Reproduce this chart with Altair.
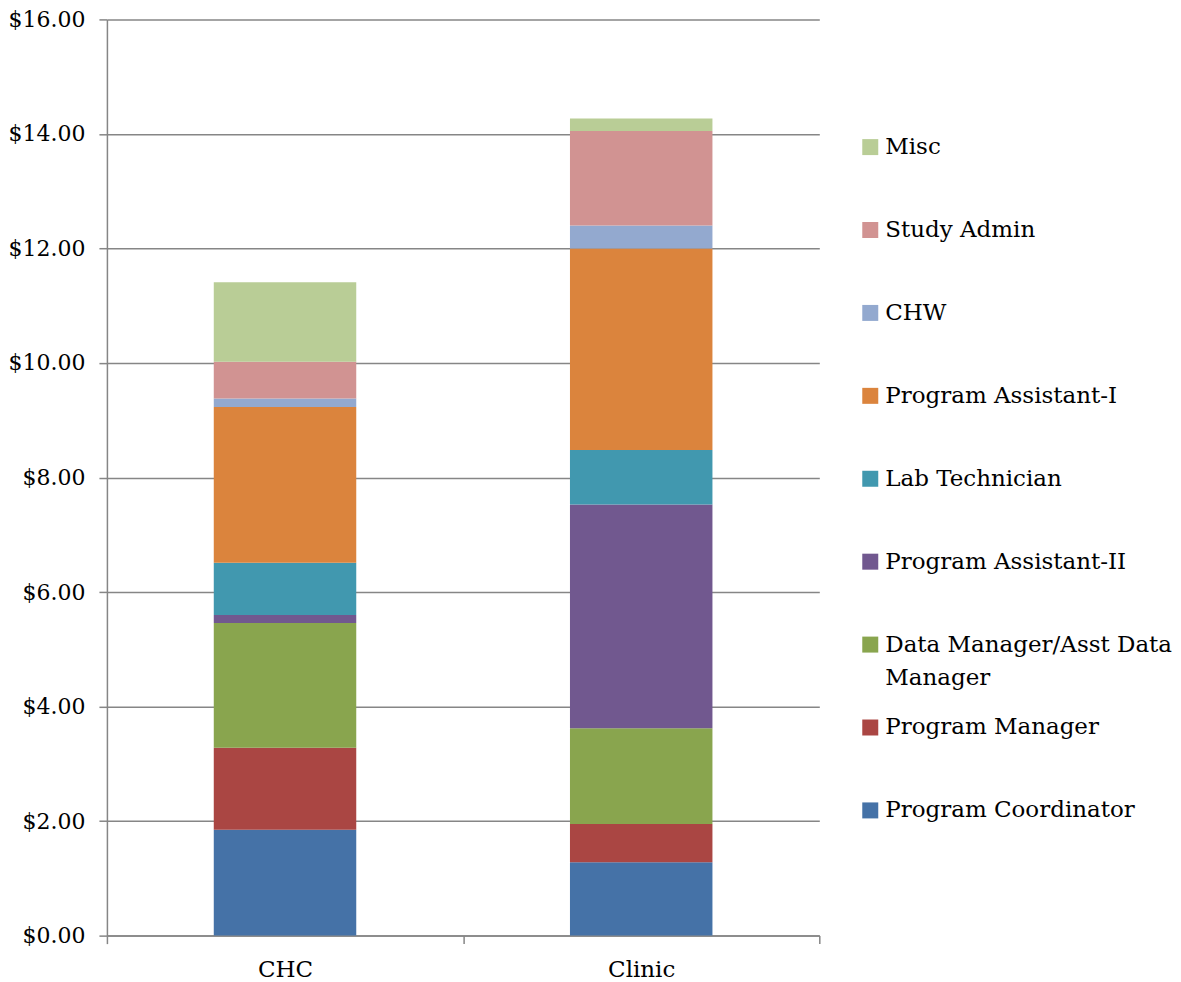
import altair as alt
import pandas as pd

sites = ["CHC", "Clinic"]
roles = ["Program Coordinator", "Program Manager", "Data Manager/Asst Data Manager",
         "Program Assistant-II", "Lab Technician", "Program Assistant-I", "CHW",
         "Study Admin", "Misc"]
legend_labels = ["Program Coordinator", "Program Manager", "Data Manager/Asst Data\nManager",
                 "Program Assistant-II", "Lab Technician", "Program Assistant-I", "CHW",
                 "Study Admin", "Misc"]
chc = [1.85, 1.43, 2.18, 0.14, 0.91, 2.72, 0.15, 0.64, 1.39]
clinic = [1.28, 0.67, 1.67, 3.91, 0.95, 3.52, 0.40, 1.65, 0.22]
colors = ["#4572A7", "#AA4643", "#89A54E", "#71588F", "#4198AF", "#DB843D",
          "#93A9CF", "#D19392", "#B9CD96"]
y_ticks = [0, 2, 4, 6, 8, 10, 12, 14, 16]

rows = []
for s, vals in zip(sites, [chc, clinic]):
    for i, (r, v) in enumerate(zip(roles, vals)):
        rows.append({"site": s, "role": r, "ord": i, "value": v})
df = pd.DataFrame(rows)

leg = pd.DataFrame({"role": roles, "label": legend_labels, "ord": list(range(len(roles)))})

FONT = "DejaVu Serif"
GRID = "#868686"

color_scale = alt.Scale(domain=roles, range=colors)

bars = alt.Chart(df).mark_bar(width={"band": 0.4}).encode(
    x=alt.X("site:N", sort=sites,
            scale=alt.Scale(paddingInner=0, paddingOuter=0),
            axis=alt.Axis(title=None, labelAngle=0, tickBand="extent", tickSize=8,
                          tickColor=GRID, tickWidth=1.5, domainColor=GRID, domainWidth=1.5,
                          labelFont=FONT, labelFontSize=23, labelColor="#000000",
                          labelPadding=15)),
    y=alt.Y("value:Q", stack="zero",
            scale=alt.Scale(domain=[0, 16], nice=False),
            axis=alt.Axis(title=None, values=y_ticks, format="$.2f", tickSize=8,
                          tickColor=GRID, tickWidth=1.5, domainColor=GRID, domainWidth=1.5,
                          grid=True, gridColor=GRID, gridWidth=1.5,
                          labelFont=FONT, labelFontSize=22, labelColor="#000000",
                          labelPadding=14)),
    color=alt.Color("role:N", scale=color_scale, legend=None),
    order=alt.Order("ord:Q", sort="ascending"),
).properties(width=713, height=917)

leg_y = alt.Y("ord:Q", scale=alt.Scale(domain=[-1.51, 9.54], nice=False, zero=False),
              axis=None)

squares = alt.Chart(leg).mark_square(size=256, opacity=1).encode(
    x=alt.value(8),
    y=leg_y,
    color=alt.Color("role:N", scale=color_scale, legend=None),
)
texts = alt.Chart(leg).mark_text(align="left", baseline="top", dy=-11, lineBreak="\n",
                                 lineHeight=33, font=FONT, fontSize=23,
                                 color="#000000").encode(
    x=alt.value(23),
    y=leg_y,
    text="label:N",
)
legend_panel = alt.layer(squares, texts).properties(width=300, height=917)

chart = alt.hconcat(bars, legend_panel, spacing=42).properties(
    padding={"left": 0, "top": 0, "right": 0, "bottom": 0}
).configure_view(strokeWidth=0).configure_concat(spacing=42)

chart.save("out.html", embed_options={"renderer": "svg", "actions": False})
